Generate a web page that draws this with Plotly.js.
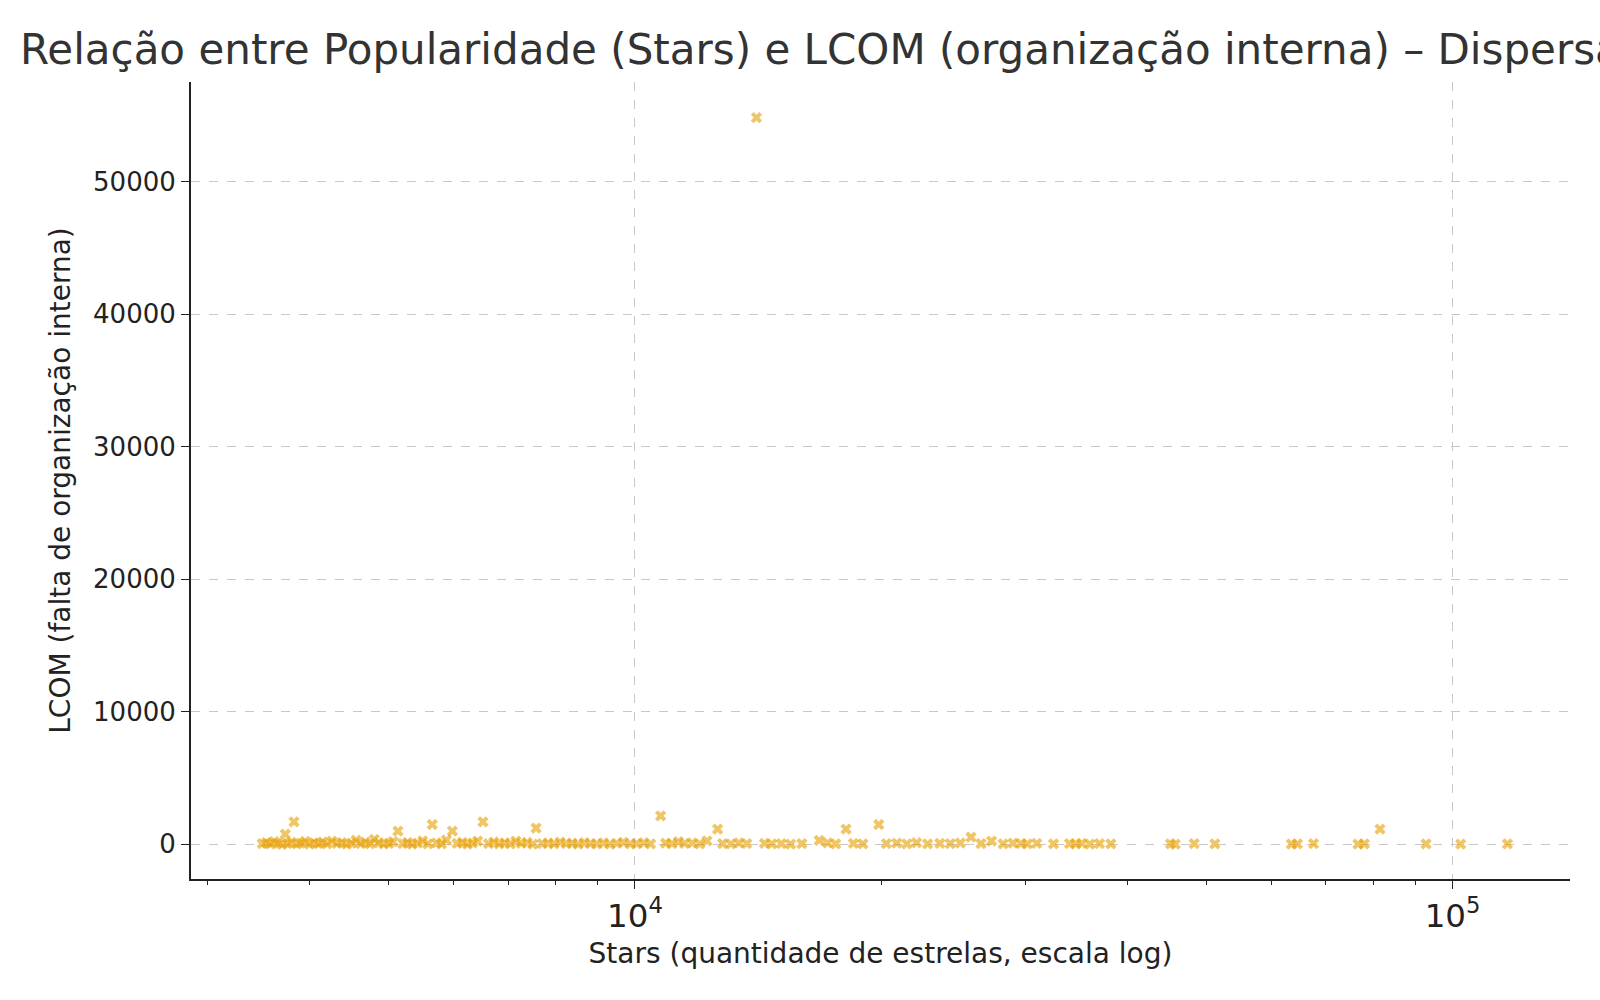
<!DOCTYPE html>
<html><head><meta charset="utf-8">
<script src="https://cdn.plot.ly/plotly-3.0.1.min.js"></script>
</head><body style="margin:0">
<div id="plot1" style="width:1600px;height:1000px"></div>
<script>
// stars per repository
var stars = [
  3500, 3540, 3580, 3620, 3660, 3700, 3735, 3760, 3800, 3828, 3860, 3900, 3950, 4000, 4050, 4100, 4150, 4200,
  4260, 4320, 4380, 4440, 4500, 4560, 4620, 4680, 4740, 4800, 4860, 4930, 5000, 5060, 5130, 5200, 5270, 5340,
  5420, 5500, 5580, 5650, 5720, 5800, 5880, 5980, 6060, 6150, 6240, 6330, 6420, 6518, 6620, 6720, 6820, 6930,
  7040, 7150, 7260, 7380, 7500, 7570, 7700, 7830, 7960, 8100, 8240, 8380, 8520, 8670, 8820, 8980, 9150, 9320,
  9500, 9680, 9870, 10050, 10250, 10450, 10750, 10900, 11100, 11300, 11500, 11750, 12000, 12250, 12620, 12800,
  13100, 13400, 13700, 14080, 14400, 14700, 15100, 15500, 16000, 16800, 17200, 17600, 18120, 18500, 19000,
  19870, 20300, 20900, 21500, 22100, 22800, 23600, 24300, 25000, 25760, 26500, 27300, 28200, 29000, 29650,
  30200, 31000, 32500, 34000, 34600, 35200, 36000, 37000, 38200,
  45190, 45800, 48300, 51200, 63500, 64600, 67600, 76600, 78000, 81500, 92800, 102300, 116700
];
// LCOM per repository
var lcom = [
  50, 120, 30, 200, 80, 10, 770, 60, 150, 1700, 40, 90, 220, 20, 110, 60, 180, 30,
  240, 70, 130, 20, 90, 310, 50, 160, 40, 380, 120, 30, 70, 200, 1000, 60, 140, 20,
  90, 260, 40, 1500, 110, 30, 330, 1000, 70, 150, 20, 100, 240, 1700, 60, 180, 40, 120,
  30, 250, 80, 140, 20, 1230, 60, 100, 30, 170, 50, 90, 20, 130, 60, 40, 110, 20,
  80, 150, 40, 60, 120, 30, 2150, 90, 50, 200, 70, 100, 40, 260, 1150, 60,
  30, 110, 50, 54850, 80, 40, 60, 20, 50, 300, 110, 40, 1150, 70, 30,
  1500, 60, 90, 40, 120, 30, 70, 50, 100, 540, 60, 250, 40, 90, 50,
  30, 70, 40, 60, 30, 80, 20, 50, 40,
  30, 20, 60, 40, 20, 30, 50, 20, 40, 1150, 30, 20, 30
];

var layout = {
  width: 1600, height: 1000,
  paper_bgcolor: 'white', plot_bgcolor: 'white',
  font: {family: 'DejaVu Sans', color: '#222', size: 26},
  title: {text: 'Relação entre Popularidade (Stars) e LCOM (organização interna) – Dispersão',
    x: 0.0125, xanchor: 'left', y: 0.951, yanchor: 'middle', font: {size: 42, color: '#333'}},
  margin: {l: 191, r: 30, t: 82, b: 121},
  showlegend: false,
  xaxis: {
    type: 'log', range: [3.457, 5.1436], dtick: 1, exponentformat: 'power',
    showgrid: true, gridcolor: '#c8c8c8', griddash: 'dash', gridwidth: 1,
    zeroline: false, showline: true, linecolor: '#222', linewidth: 2,
    ticks: 'outside', ticklen: 8, tickcolor: '#222',
    minor: {ticks: 'outside', ticklen: 4, tickcolor: '#222', showgrid: false},
    title: {text: 'Stars (quantidade de estrelas, escala log)', font: {size: 28}, standoff: 10}
  },
  yaxis: {
    range: [-2615, 57538], tickvals: [0, 10000, 20000, 30000, 40000, 50000],
    tickformat: 'd',
    showgrid: true, gridcolor: '#c8c8c8', griddash: 'dash', gridwidth: 1,
    zeroline: false, showline: true, linecolor: '#222', linewidth: 2,
    ticks: 'outside', ticklen: 8, tickcolor: '#222',
    title: {text: 'LCOM (falta de organização interna)', font: {size: 28}, standoff: 14}
  }
};

Plotly.newPlot('plot1', [{
  x: stars, y: lcom, type: 'scatter', mode: 'markers',
  marker: {symbol: 'x', size: 10, color: 'rgba(230,159,0,0.6)', line: {width: 0}}
}], layout, {displayModeBar: false});
</script>
</body></html>
